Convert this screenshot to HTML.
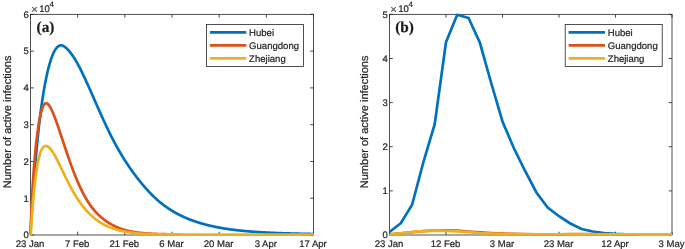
<!DOCTYPE html>
<html lang="en"><head><meta charset="utf-8"><title>Number of active infections</title>
<style>html,body{margin:0;padding:0;background:#fff}svg{display:block}text{white-space:pre;text-rendering:geometricPrecision;stroke:#262626;stroke-width:0.22px}</style></head>
<body>
<svg width="685" height="249" viewBox="0 0 685 249" font-family="'Liberation Sans', Arial, Helvetica, sans-serif" fill="#262626">
<rect width="685" height="249" fill="#fff"/>
<path d="M30.50,235.0v-3.3M30.50,14.35v3.3M77.67,235.0v-3.3M77.67,14.35v3.3M124.83,235.0v-3.3M124.83,14.35v3.3M172.00,235.0v-3.3M172.00,14.35v3.3M219.17,235.0v-3.3M219.17,14.35v3.3M266.33,235.0v-3.3M266.33,14.35v3.3M313.50,235.0v-3.3M313.50,14.35v3.3M30.5,235.00h3.3M313.5,235.00h-3.3M30.5,198.22h3.3M313.5,198.22h-3.3M30.5,161.45h3.3M313.5,161.45h-3.3M30.5,124.67h3.3M313.5,124.67h-3.3M30.5,87.90h3.3M313.5,87.90h-3.3M30.5,51.12h3.3M313.5,51.12h-3.3M30.5,14.35h3.3M313.5,14.35h-3.3" stroke="#262626" stroke-width="0.85" fill="none"/>
<rect x="30.5" y="14.35" width="283.00" height="220.65" fill="none" stroke="#262626" stroke-width="0.8"/>
<text x="30.00" y="247.2" text-anchor="middle" font-size="9.55">23 Jan</text>
<text x="77.17" y="247.2" text-anchor="middle" font-size="9.55">7 Feb</text>
<text x="124.33" y="247.2" text-anchor="middle" font-size="9.55">21 Feb</text>
<text x="171.50" y="247.2" text-anchor="middle" font-size="9.55">6 Mar</text>
<text x="218.67" y="247.2" text-anchor="middle" font-size="9.55">20 Mar</text>
<text x="265.83" y="247.2" text-anchor="middle" font-size="9.55">3 Apr</text>
<text x="313.00" y="247.2" text-anchor="middle" font-size="9.55">17 Apr</text>
<text x="28.75" y="238.30" text-anchor="end" font-size="9.55">0</text>
<text x="28.75" y="201.53" text-anchor="end" font-size="9.55">1</text>
<text x="28.75" y="164.75" text-anchor="end" font-size="9.55">2</text>
<text x="28.75" y="127.97" text-anchor="end" font-size="9.55">3</text>
<text x="28.75" y="91.20" text-anchor="end" font-size="9.55">4</text>
<text x="28.75" y="54.42" text-anchor="end" font-size="9.55">5</text>
<text x="28.75" y="17.65" text-anchor="end" font-size="9.55">6</text>
<text x="31.25" y="12.7" font-size="11.2" fill="#555">×</text>
<text x="39.20" y="11.8" font-size="9.55">10</text>
<text x="49.60" y="7.4" font-size="8.0">4</text>
<text transform="translate(11.00,121.88) rotate(-90)" text-anchor="middle" font-size="11.0">Number of active infections</text>
<clipPath id="ca"><rect x="29.3" y="14.35" width="284.80" height="222.25"/></clipPath>
<g clip-path="url(#ca)" fill="none" stroke-width="2.7" stroke-linejoin="round">
<path d="M30.30,234.45 L30.55,230.47 L30.80,226.52 L31.05,222.60 L31.30,218.72 L31.55,214.89 L31.80,211.10 L32.05,207.36 L32.30,203.68 L32.55,200.05 L32.80,196.48 L33.05,192.96 L33.30,189.50 L33.55,186.10 L33.80,182.76 L34.05,179.48 L34.30,176.26 L34.55,173.09 L34.80,169.99 L35.05,166.94 L35.30,163.94 L35.55,161.01 L35.80,158.13 L36.05,155.30 L36.30,152.53 L36.55,149.81 L36.80,147.15 L37.05,144.54 L37.30,141.98 L37.55,139.47 L37.80,137.01 L38.05,134.59 L38.30,132.23 L38.55,129.91 L38.80,127.64 L39.05,125.42 L39.30,123.24 L39.55,121.10 L39.80,119.01 L40.05,116.96 L40.30,114.95 L40.55,112.98 L40.80,111.05 L41.05,109.16 L41.30,107.31 L41.55,105.50 L41.80,103.73 L42.05,101.99 L42.30,100.29 L42.55,98.62 L42.80,96.99 L43.05,95.39 L43.30,93.83 L43.55,92.30 L43.80,90.80 L44.05,89.33 L44.30,87.90 L44.55,86.50 L44.80,85.12 L45.05,83.78 L45.30,82.46 L45.55,81.17 L45.80,79.91 L46.05,78.68 L46.30,77.48 L46.55,76.30 L46.80,75.15 L47.05,74.02 L47.30,72.92 L47.55,71.85 L47.80,70.80 L48.05,69.77 L48.30,68.77 L48.55,67.79 L48.80,66.83 L49.05,65.90 L49.30,64.99 L49.55,64.10 L49.80,63.24 L50.05,62.40 L50.30,61.58 L50.55,60.78 L50.80,60.01 L51.05,59.26 L51.30,58.53 L51.55,57.82 L51.80,57.13 L52.05,56.47 L52.30,55.83 L52.55,55.20 L52.80,54.60 L53.05,54.02 L53.30,53.46 L53.55,52.92 L53.80,52.40 L54.05,51.90 L54.30,51.43 L54.55,50.97 L54.80,50.53 L55.05,50.11 L55.30,49.70 L55.55,49.32 L55.80,48.96 L56.05,48.61 L56.30,48.29 L56.55,47.98 L56.80,47.69 L57.05,47.42 L57.30,47.16 L57.55,46.93 L57.80,46.71 L58.05,46.51 L58.30,46.32 L58.55,46.15 L58.80,46.00 L59.05,45.87 L59.30,45.75 L59.55,45.65 L59.80,45.57 L60.05,45.50 L60.30,45.44 L60.55,45.41 L60.80,45.38 L61.05,45.38 L61.30,45.39 L61.55,45.41 L61.80,45.45 L62.05,45.50 L62.30,45.57 L62.55,45.64 L62.80,45.74 L63.05,45.84 L63.30,45.95 L63.55,46.08 L63.80,46.22 L64.05,46.36 L64.30,46.52 L64.55,46.69 L64.80,46.87 L65.05,47.05 L65.30,47.24 L65.55,47.45 L65.80,47.66 L66.05,47.87 L66.30,48.10 L66.55,48.33 L66.80,48.57 L67.05,48.81 L67.30,49.06 L67.55,49.32 L67.80,49.58 L68.05,49.85 L68.30,50.12 L68.55,50.39 L68.80,50.68 L69.05,50.96 L69.30,51.25 L69.55,51.55 L69.80,51.85 L70.05,52.16 L70.30,52.47 L70.55,52.79 L70.80,53.11 L71.05,53.44 L71.30,53.77 L71.55,54.11 L71.80,54.45 L72.05,54.80 L72.30,55.15 L72.55,55.51 L72.80,55.87 L73.05,56.23 L73.30,56.61 L73.55,56.98 L73.80,57.36 L74.05,57.75 L74.30,58.14 L74.55,58.54 L74.80,58.94 L75.05,59.34 L75.30,59.75 L75.55,60.17 L75.80,60.59 L76.05,61.01 L76.30,61.44 L76.55,61.88 L76.80,62.32 L77.05,62.76 L77.30,63.21 L77.55,63.66 L77.80,64.12 L78.05,64.58 L78.30,65.04 L78.55,65.51 L78.80,65.98 L79.05,66.46 L79.30,66.94 L79.55,67.42 L79.80,67.91 L80.05,68.40 L80.30,68.89 L80.55,69.39 L80.80,69.89 L81.05,70.39 L81.30,70.89 L81.55,71.40 L81.80,71.91 L82.05,72.42 L82.30,72.94 L82.55,73.46 L82.80,73.98 L83.05,74.50 L83.30,75.02 L83.55,75.55 L83.80,76.08 L84.05,76.61 L84.30,77.14 L84.55,77.68 L84.80,78.21 L85.05,78.75 L85.30,79.29 L85.55,79.83 L85.80,80.38 L86.05,80.92 L86.30,81.47 L86.55,82.02 L86.80,82.57 L87.05,83.12 L87.30,83.67 L87.55,84.22 L87.80,84.77 L88.05,85.33 L88.30,85.88 L88.55,86.44 L88.80,87.00 L89.05,87.56 L89.30,88.12 L89.55,88.68 L89.80,89.24 L90.05,89.80 L90.30,90.36 L90.80,91.49 L91.30,92.62 L91.80,93.75 L92.30,94.88 L92.80,96.02 L93.30,97.15 L93.80,98.29 L94.30,99.43 L94.80,100.56 L95.30,101.70 L95.80,102.84 L96.30,103.97 L96.80,105.11 L97.30,106.24 L97.80,107.37 L98.30,108.50 L98.80,109.63 L99.30,110.76 L99.80,111.88 L100.30,113.00 L100.80,114.11 L101.30,115.22 L101.80,116.33 L102.30,117.43 L102.80,118.53 L103.30,119.62 L103.80,120.71 L104.30,121.80 L104.80,122.87 L105.30,123.95 L105.80,125.01 L106.30,126.07 L106.80,127.13 L107.30,128.17 L107.80,129.22 L108.30,130.25 L108.80,131.28 L109.30,132.30 L109.80,133.31 L110.30,134.32 L110.80,135.32 L111.30,136.31 L111.80,137.30 L112.30,138.27 L112.80,139.24 L113.30,140.20 L113.80,141.16 L114.30,142.11 L114.80,143.04 L115.30,143.98 L115.80,144.90 L116.30,145.82 L116.80,146.72 L117.30,147.62 L117.80,148.52 L118.30,149.40 L118.80,150.28 L119.30,151.15 L119.80,152.01 L120.30,152.87 L120.80,153.72 L121.30,154.56 L121.80,155.39 L122.30,156.21 L122.80,157.03 L123.30,157.84 L123.80,158.64 L124.30,159.44 L124.80,160.23 L125.30,161.01 L125.80,161.78 L126.30,162.55 L126.80,163.31 L127.30,164.07 L127.80,164.82 L128.30,165.56 L128.80,166.30 L129.30,167.03 L129.80,167.76 L130.30,168.48 L130.80,169.19 L131.30,169.90 L131.80,170.60 L132.30,171.30 L132.80,171.99 L133.30,172.68 L133.80,173.36 L134.30,174.04 L134.80,174.71 L135.30,175.37 L135.80,176.03 L136.30,176.69 L136.80,177.34 L137.30,177.99 L137.80,178.63 L138.30,179.27 L138.80,179.90 L139.30,180.53 L139.80,181.15 L140.30,181.77 L140.80,182.39 L141.30,183.00 L141.80,183.61 L142.30,184.21 L142.80,184.80 L143.30,185.40 L143.80,185.99 L144.30,186.57 L144.80,187.15 L145.30,187.72 L145.80,188.29 L146.30,188.85 L146.80,189.41 L147.30,189.97 L147.80,190.52 L148.30,191.06 L148.80,191.60 L149.30,192.13 L149.80,192.66 L150.30,193.18 L150.80,193.70 L151.30,194.21 L151.80,194.71 L152.30,195.22 L152.80,195.71 L153.30,196.20 L153.80,196.68 L154.30,197.16 L154.80,197.63 L155.30,198.10 L155.80,198.56 L156.30,199.02 L156.80,199.47 L157.30,199.91 L157.80,200.35 L158.30,200.78 L158.80,201.21 L159.30,201.63 L159.80,202.05 L160.30,202.46 L160.80,202.86 L161.30,203.26 L161.80,203.66 L162.30,204.05 L162.80,204.44 L163.30,204.82 L163.80,205.20 L164.30,205.57 L164.80,205.94 L165.30,206.30 L165.80,206.66 L166.30,207.01 L166.80,207.36 L167.30,207.70 L167.80,208.04 L168.30,208.38 L168.80,208.71 L169.30,209.04 L169.80,209.36 L170.30,209.68 L170.80,210.00 L171.30,210.31 L171.80,210.62 L172.30,210.92 L172.80,211.22 L173.30,211.52 L173.80,211.81 L174.30,212.10 L174.80,212.39 L175.30,212.67 L175.80,212.95 L176.30,213.23 L176.80,213.50 L177.30,213.77 L177.80,214.03 L178.30,214.29 L178.80,214.55 L179.30,214.81 L179.80,215.06 L180.30,215.31 L180.80,215.55 L181.30,215.80 L181.80,216.04 L182.30,216.27 L182.80,216.51 L183.30,216.74 L183.80,216.97 L184.30,217.19 L184.80,217.41 L185.30,217.63 L185.80,217.85 L186.30,218.07 L186.80,218.28 L187.30,218.49 L187.80,218.69 L188.30,218.90 L188.80,219.10 L189.30,219.30 L189.80,219.49 L190.30,219.69 L190.80,219.88 L191.30,220.07 L191.80,220.25 L192.30,220.44 L192.80,220.62 L193.30,220.80 L193.80,220.98 L194.30,221.15 L194.80,221.33 L195.30,221.50 L195.80,221.67 L196.30,221.83 L196.80,222.00 L197.30,222.16 L197.80,222.32 L198.30,222.48 L198.80,222.64 L199.30,222.79 L199.80,222.94 L200.30,223.09 L200.80,223.24 L201.30,223.39 L201.80,223.53 L202.30,223.68 L202.80,223.82 L203.30,223.96 L203.80,224.10 L204.30,224.23 L204.80,224.37 L205.30,224.50 L205.80,224.63 L206.30,224.76 L206.80,224.89 L207.30,225.02 L207.80,225.14 L208.30,225.26 L208.80,225.38 L209.30,225.50 L209.80,225.62 L210.30,225.74 L210.80,225.86 L211.30,225.97 L211.80,226.08 L212.30,226.19 L212.80,226.30 L213.30,226.41 L213.80,226.52 L214.30,226.62 L214.80,226.73 L215.30,226.83 L215.80,226.93 L216.30,227.03 L216.80,227.13 L217.30,227.23 L217.80,227.32 L218.30,227.42 L218.80,227.51 L219.30,227.61 L219.80,227.70 L220.30,227.79 L220.80,227.88 L221.30,227.96 L221.80,228.05 L222.30,228.14 L222.80,228.22 L223.30,228.30 L223.80,228.39 L224.30,228.47 L224.80,228.55 L225.30,228.63 L225.80,228.71 L226.30,228.78 L226.80,228.86 L227.30,228.93 L227.80,229.01 L228.30,229.08 L228.80,229.15 L229.30,229.23 L229.80,229.30 L230.30,229.37 L230.80,229.43 L231.30,229.50 L231.80,229.57 L232.30,229.63 L232.80,229.70 L233.30,229.76 L233.80,229.83 L234.30,229.89 L234.80,229.95 L235.30,230.01 L235.80,230.07 L236.30,230.13 L236.80,230.19 L237.30,230.25 L237.80,230.30 L238.30,230.36 L238.80,230.42 L239.30,230.47 L239.80,230.52 L240.30,230.58 L240.80,230.63 L241.30,230.68 L241.80,230.73 L242.30,230.78 L242.80,230.83 L243.30,230.88 L243.80,230.93 L244.30,230.98 L244.80,231.02 L245.30,231.07 L245.80,231.12 L246.30,231.16 L246.80,231.21 L247.30,231.25 L247.80,231.29 L248.30,231.34 L248.80,231.38 L249.30,231.42 L249.80,231.46 L250.30,231.50 L250.80,231.54 L251.30,231.58 L251.80,231.62 L252.30,231.66 L252.80,231.70 L253.30,231.73 L253.80,231.77 L254.30,231.81 L254.80,231.84 L255.30,231.88 L255.80,231.91 L256.30,231.95 L256.80,231.98 L257.30,232.02 L257.80,232.05 L258.30,232.08 L258.80,232.11 L259.30,232.15 L259.80,232.18 L260.30,232.21 L260.80,232.24 L261.30,232.27 L261.80,232.30 L262.30,232.33 L262.80,232.36 L263.30,232.38 L263.80,232.41 L264.30,232.44 L264.80,232.47 L265.30,232.49 L265.80,232.52 L266.30,232.55 L266.80,232.57 L267.30,232.60 L267.80,232.62 L268.30,232.65 L268.80,232.67 L269.30,232.70 L269.80,232.72 L270.30,232.75 L270.80,232.77 L271.30,232.79 L271.80,232.81 L272.30,232.84 L272.80,232.86 L273.30,232.88 L273.80,232.90 L274.30,232.92 L274.80,232.94 L275.30,232.97 L275.80,232.99 L276.30,233.01 L276.80,233.03 L277.30,233.05 L277.80,233.07 L278.30,233.08 L278.80,233.10 L279.30,233.12 L279.80,233.14 L280.30,233.16 L280.80,233.18 L281.30,233.19 L281.80,233.21 L282.30,233.23 L282.80,233.25 L283.30,233.26 L283.80,233.28 L284.30,233.30 L284.80,233.31 L285.30,233.33 L285.80,233.35 L286.30,233.36 L286.80,233.38 L287.30,233.39 L287.80,233.41 L288.30,233.42 L288.80,233.44 L289.30,233.45 L289.80,233.47 L290.30,233.48 L290.80,233.50 L291.30,233.51 L291.80,233.52 L292.30,233.54 L292.80,233.55 L293.30,233.57 L293.80,233.58 L294.30,233.59 L294.80,233.61 L295.30,233.62 L295.80,233.63 L296.30,233.65 L296.80,233.66 L297.30,233.67 L297.80,233.68 L298.30,233.70 L298.80,233.71 L299.30,233.72 L299.80,233.73 L300.30,233.74 L300.80,233.76 L301.30,233.77 L301.80,233.78 L302.30,233.79 L302.80,233.80 L303.30,233.81 L303.80,233.83 L304.30,233.84 L304.80,233.85 L305.30,233.86 L305.80,233.87 L306.30,233.88 L306.80,233.89 L307.30,233.90 L307.80,233.91 L308.30,233.93 L308.80,233.94 L309.30,233.95 L309.80,233.96 L310.30,233.97 L310.80,233.98 L311.30,233.99 L311.80,234.00 L312.30,234.01 L312.80,234.02 L313.30,234.03 L313.80,234.04 L314.30,234.05" stroke="#0072BD"/>
<path d="M30.30,233.98 L30.55,227.83 L30.80,221.99 L31.05,216.42 L31.30,211.12 L31.55,206.07 L31.80,201.25 L32.05,196.64 L32.30,192.24 L32.55,188.04 L32.80,184.01 L33.05,180.16 L33.30,176.47 L33.55,172.93 L33.80,169.54 L34.05,166.28 L34.30,163.16 L34.55,160.16 L34.80,157.28 L35.05,154.51 L35.30,151.85 L35.55,149.29 L35.80,146.83 L36.05,144.47 L36.30,142.19 L36.55,140.00 L36.80,137.89 L37.05,135.86 L37.30,133.90 L37.55,132.02 L37.80,130.21 L38.05,128.46 L38.30,126.78 L38.55,125.17 L38.80,123.63 L39.05,122.14 L39.30,120.73 L39.55,119.37 L39.80,118.08 L40.05,116.85 L40.30,115.68 L40.55,114.56 L40.80,113.51 L41.05,112.51 L41.30,111.57 L41.55,110.69 L41.80,109.86 L42.05,109.08 L42.30,108.36 L42.55,107.69 L42.80,107.07 L43.05,106.50 L43.30,105.98 L43.55,105.50 L43.80,105.08 L44.05,104.70 L44.30,104.37 L44.55,104.08 L44.80,103.84 L45.05,103.64 L45.30,103.49 L45.55,103.37 L45.80,103.30 L46.05,103.27 L46.30,103.27 L46.55,103.31 L46.80,103.39 L47.05,103.50 L47.30,103.64 L47.55,103.81 L47.80,104.01 L48.05,104.24 L48.30,104.49 L48.55,104.77 L48.80,105.07 L49.05,105.40 L49.30,105.75 L49.55,106.12 L49.80,106.51 L50.05,106.93 L50.30,107.36 L50.55,107.80 L50.80,108.27 L51.05,108.75 L51.30,109.25 L51.55,109.76 L51.80,110.28 L52.05,110.82 L52.30,111.38 L52.55,111.94 L52.80,112.52 L53.05,113.11 L53.30,113.70 L53.55,114.31 L53.80,114.93 L54.05,115.56 L54.30,116.20 L54.55,116.84 L54.80,117.49 L55.05,118.16 L55.30,118.82 L55.55,119.50 L55.80,120.18 L56.05,120.87 L56.30,121.56 L56.55,122.26 L56.80,122.96 L57.05,123.67 L57.30,124.38 L57.55,125.10 L57.80,125.82 L58.05,126.55 L58.30,127.27 L58.55,128.01 L58.80,128.74 L59.05,129.48 L59.30,130.22 L59.55,130.96 L59.80,131.70 L60.05,132.45 L60.30,133.20 L60.55,133.95 L60.80,134.70 L61.05,135.45 L61.30,136.20 L61.55,136.96 L61.80,137.71 L62.05,138.47 L62.30,139.22 L62.55,139.98 L62.80,140.74 L63.05,141.49 L63.30,142.25 L63.55,143.01 L63.80,143.76 L64.05,144.52 L64.30,145.27 L64.55,146.02 L64.80,146.78 L65.05,147.53 L65.30,148.28 L65.55,149.02 L65.80,149.77 L66.05,150.52 L66.30,151.26 L66.55,152.00 L66.80,152.74 L67.05,153.47 L67.30,154.21 L67.55,154.94 L67.80,155.67 L68.05,156.39 L68.30,157.12 L68.55,157.84 L68.80,158.56 L69.05,159.27 L69.30,159.98 L69.55,160.69 L69.80,161.40 L70.05,162.10 L70.30,162.80 L70.55,163.49 L70.80,164.18 L71.05,164.87 L71.30,165.56 L71.55,166.24 L71.80,166.92 L72.05,167.59 L72.30,168.26 L72.55,168.93 L72.80,169.59 L73.05,170.25 L73.30,170.91 L73.55,171.56 L73.80,172.20 L74.05,172.85 L74.30,173.49 L74.55,174.12 L74.80,174.75 L75.05,175.38 L75.30,176.00 L75.55,176.62 L75.80,177.23 L76.05,177.84 L76.30,178.45 L76.55,179.05 L76.80,179.64 L77.05,180.24 L77.30,180.82 L77.55,181.41 L77.80,181.99 L78.05,182.56 L78.30,183.13 L78.55,183.70 L78.80,184.26 L79.05,184.82 L79.30,185.37 L79.55,185.92 L79.80,186.46 L80.05,187.00 L80.30,187.54 L80.55,188.07 L80.80,188.59 L81.05,189.11 L81.30,189.63 L81.55,190.14 L81.80,190.65 L82.05,191.15 L82.30,191.65 L82.55,192.15 L82.80,192.64 L83.05,193.12 L83.30,193.60 L83.55,194.08 L83.80,194.55 L84.05,195.02 L84.30,195.48 L84.55,195.94 L84.80,196.39 L85.05,196.84 L85.30,197.29 L85.55,197.73 L85.80,198.16 L86.05,198.59 L86.30,199.02 L86.55,199.44 L86.80,199.86 L87.05,200.27 L87.30,200.68 L87.55,201.09 L87.80,201.48 L88.05,201.88 L88.30,202.27 L88.55,202.66 L88.80,203.04 L89.05,203.42 L89.30,203.79 L89.55,204.16 L89.80,204.52 L90.05,204.89 L90.30,205.24 L90.80,205.94 L91.30,206.62 L91.80,207.29 L92.30,207.93 L92.80,208.57 L93.30,209.18 L93.80,209.79 L94.30,210.38 L94.80,210.95 L95.30,211.51 L95.80,212.06 L96.30,212.60 L96.80,213.12 L97.30,213.63 L97.80,214.14 L98.30,214.63 L98.80,215.11 L99.30,215.58 L99.80,216.04 L100.30,216.49 L100.80,216.93 L101.30,217.37 L101.80,217.79 L102.30,218.21 L102.80,218.62 L103.30,219.02 L103.80,219.41 L104.30,219.80 L104.80,220.17 L105.30,220.54 L105.80,220.90 L106.30,221.26 L106.80,221.60 L107.30,221.94 L107.80,222.27 L108.30,222.60 L108.80,222.92 L109.30,223.23 L109.80,223.53 L110.30,223.83 L110.80,224.12 L111.30,224.40 L111.80,224.68 L112.30,224.95 L112.80,225.22 L113.30,225.48 L113.80,225.73 L114.30,225.98 L114.80,226.22 L115.30,226.46 L115.80,226.69 L116.30,226.92 L116.80,227.14 L117.30,227.35 L117.80,227.56 L118.30,227.76 L118.80,227.96 L119.30,228.15 L119.80,228.34 L120.30,228.53 L120.80,228.70 L121.30,228.88 L121.80,229.05 L122.30,229.21 L122.80,229.37 L123.30,229.53 L123.80,229.68 L124.30,229.83 L124.80,229.97 L125.30,230.11 L125.80,230.24 L126.30,230.38 L126.80,230.50 L127.30,230.63 L127.80,230.75 L128.30,230.87 L128.80,230.98 L129.30,231.09 L129.80,231.20 L130.30,231.30 L130.80,231.41 L131.30,231.51 L131.80,231.60 L132.30,231.69 L132.80,231.78 L133.30,231.87 L133.80,231.96 L134.30,232.04 L134.80,232.12 L135.30,232.20 L135.80,232.27 L136.30,232.35 L136.80,232.42 L137.30,232.49 L137.80,232.55 L138.30,232.62 L138.80,232.68 L139.30,232.74 L139.80,232.80 L140.30,232.85 L140.80,232.91 L141.30,232.96 L141.80,233.01 L142.30,233.06 L142.80,233.11 L143.30,233.16 L143.80,233.20 L144.30,233.25 L144.80,233.29 L145.30,233.33 L145.80,233.37 L146.30,233.40 L146.80,233.44 L147.30,233.48 L147.80,233.51 L148.30,233.54 L148.80,233.57 L149.30,233.61 L149.80,233.64 L150.30,233.66 L150.80,233.69 L151.30,233.72 L151.80,233.75 L152.30,233.77 L152.80,233.79 L153.30,233.82 L153.80,233.84 L154.30,233.86 L154.80,233.88 L155.30,233.90 L155.80,233.92 L156.30,233.94 L156.80,233.96 L157.30,233.98 L157.80,234.00 L158.30,234.01 L158.80,234.03 L159.30,234.05 L159.80,234.06 L160.30,234.08 L160.80,234.09 L161.30,234.10 L161.80,234.12 L162.30,234.13 L162.80,234.14 L163.30,234.15 L163.80,234.17 L164.30,234.18 L164.80,234.19 L165.30,234.20 L165.80,234.21 L166.30,234.22 L166.80,234.23 L167.30,234.24 L167.80,234.24 L168.30,234.25 L168.80,234.26 L169.30,234.27 L169.80,234.28 L170.30,234.28 L170.80,234.29 L171.30,234.30" stroke="#D95319"/>
<path d="M30.30,234.50 L30.55,234.50 L30.80,234.34 L31.05,230.14 L31.30,226.11 L31.55,222.23 L31.80,218.51 L32.05,214.93 L32.30,211.49 L32.55,208.19 L32.80,205.02 L33.05,201.97 L33.30,199.05 L33.55,196.24 L33.80,193.55 L34.05,190.96 L34.30,188.48 L34.55,186.10 L34.80,183.82 L35.05,181.64 L35.30,179.54 L35.55,177.54 L35.80,175.62 L36.05,173.78 L36.30,172.02 L36.55,170.34 L36.80,168.74 L37.05,167.20 L37.30,165.74 L37.55,164.35 L37.80,163.02 L38.05,161.76 L38.30,160.56 L38.55,159.42 L38.80,158.34 L39.05,157.31 L39.30,156.34 L39.55,155.42 L39.80,154.56 L40.05,153.75 L40.30,152.98 L40.55,152.27 L40.80,151.60 L41.05,150.97 L41.30,150.39 L41.55,149.86 L41.80,149.36 L42.05,148.91 L42.30,148.49 L42.55,148.11 L42.80,147.77 L43.05,147.46 L43.30,147.18 L43.55,146.93 L43.80,146.72 L44.05,146.53 L44.30,146.38 L44.55,146.25 L44.80,146.14 L45.05,146.06 L45.30,146.01 L45.55,145.98 L45.80,145.97 L46.05,145.98 L46.30,146.01 L46.55,146.07 L46.80,146.14 L47.05,146.23 L47.30,146.34 L47.55,146.47 L47.80,146.61 L48.05,146.77 L48.30,146.94 L48.55,147.13 L48.80,147.34 L49.05,147.56 L49.30,147.79 L49.55,148.03 L49.80,148.29 L50.05,148.56 L50.30,148.84 L50.55,149.13 L50.80,149.44 L51.05,149.75 L51.30,150.08 L51.55,150.41 L51.80,150.76 L52.05,151.11 L52.30,151.47 L52.55,151.84 L52.80,152.22 L53.05,152.61 L53.30,153.00 L53.55,153.41 L53.80,153.82 L54.05,154.23 L54.30,154.66 L54.55,155.09 L54.80,155.52 L55.05,155.97 L55.30,156.42 L55.55,156.87 L55.80,157.33 L56.05,157.79 L56.30,158.27 L56.55,158.74 L56.80,159.22 L57.05,159.71 L57.30,160.19 L57.55,160.69 L57.80,161.18 L58.05,161.68 L58.30,162.19 L58.55,162.69 L58.80,163.20 L59.05,163.71 L59.30,164.22 L59.55,164.74 L59.80,165.25 L60.05,165.77 L60.30,166.29 L60.55,166.81 L60.80,167.33 L61.05,167.85 L61.30,168.37 L61.55,168.90 L61.80,169.42 L62.05,169.94 L62.30,170.47 L62.55,170.99 L62.80,171.51 L63.05,172.03 L63.30,172.56 L63.55,173.08 L63.80,173.60 L64.05,174.12 L64.30,174.63 L64.55,175.15 L64.80,175.67 L65.05,176.18 L65.30,176.69 L65.55,177.21 L65.80,177.72 L66.05,178.22 L66.30,178.73 L66.55,179.24 L66.80,179.74 L67.05,180.24 L67.30,180.74 L67.55,181.24 L67.80,181.73 L68.05,182.22 L68.30,182.71 L68.55,183.20 L68.80,183.69 L69.05,184.17 L69.30,184.65 L69.55,185.13 L69.80,185.60 L70.05,186.08 L70.30,186.55 L70.55,187.01 L70.80,187.48 L71.05,187.94 L71.30,188.40 L71.55,188.86 L71.80,189.31 L72.05,189.76 L72.30,190.21 L72.55,190.65 L72.80,191.09 L73.05,191.53 L73.30,191.97 L73.55,192.40 L73.80,192.83 L74.05,193.25 L74.30,193.68 L74.55,194.10 L74.80,194.51 L75.05,194.93 L75.30,195.34 L75.55,195.74 L75.80,196.15 L76.05,196.55 L76.30,196.95 L76.55,197.34 L76.80,197.73 L77.05,198.12 L77.30,198.50 L77.55,198.89 L77.80,199.26 L78.05,199.64 L78.30,200.01 L78.55,200.38 L78.80,200.75 L79.05,201.11 L79.30,201.47 L79.55,201.83 L79.80,202.18 L80.05,202.53 L80.30,202.88 L80.55,203.23 L80.80,203.57 L81.05,203.91 L81.30,204.25 L81.55,204.58 L81.80,204.91 L82.05,205.24 L82.30,205.57 L82.55,205.89 L82.80,206.21 L83.05,206.53 L83.30,206.84 L83.55,207.15 L83.80,207.46 L84.05,207.77 L84.30,208.07 L84.55,208.37 L84.80,208.67 L85.05,208.97 L85.30,209.26 L85.55,209.55 L85.80,209.84 L86.05,210.12 L86.30,210.40 L86.55,210.68 L86.80,210.96 L87.05,211.24 L87.30,211.51 L87.55,211.78 L87.80,212.05 L88.05,212.31 L88.30,212.57 L88.55,212.83 L88.80,213.09 L89.05,213.35 L89.30,213.60 L89.55,213.85 L89.80,214.10 L90.05,214.34 L90.30,214.59 L90.80,215.06 L91.30,215.53 L91.80,216.00 L92.30,216.45 L92.80,216.89 L93.30,217.32 L93.80,217.75 L94.30,218.16 L94.80,218.57 L95.30,218.97 L95.80,219.36 L96.30,219.74 L96.80,220.12 L97.30,220.48 L97.80,220.84 L98.30,221.19 L98.80,221.53 L99.30,221.87 L99.80,222.19 L100.30,222.51 L100.80,222.82 L101.30,223.13 L101.80,223.42 L102.30,223.71 L102.80,224.00 L103.30,224.27 L103.80,224.54 L104.30,224.80 L104.80,225.06 L105.30,225.31 L105.80,225.56 L106.30,225.79 L106.80,226.03 L107.30,226.25 L107.80,226.48 L108.30,226.69 L108.80,226.90 L109.30,227.11 L109.80,227.31 L110.30,227.51 L110.80,227.70 L111.30,227.89 L111.80,228.07 L112.30,228.25 L112.80,228.43 L113.30,228.60 L113.80,228.76 L114.30,228.92 L114.80,229.08 L115.30,229.24 L115.80,229.39 L116.30,229.53 L116.80,229.68 L117.30,229.82 L117.80,229.96 L118.30,230.09 L118.80,230.22 L119.30,230.35 L119.80,230.47 L120.30,230.59 L120.80,230.71 L121.30,230.83 L121.80,230.94 L122.30,231.05 L122.80,231.16 L123.30,231.26 L123.80,231.36 L124.30,231.46 L124.80,231.56 L125.30,231.65 L125.80,231.75 L126.30,231.84 L126.80,231.92 L127.30,232.01 L127.80,232.09 L128.30,232.18 L128.80,232.26 L129.30,232.33 L129.80,232.41 L130.30,232.48 L130.80,232.56 L131.30,232.63 L131.80,232.70 L132.30,232.76 L132.80,232.83 L133.30,232.89 L133.80,232.95 L134.30,233.01 L134.80,233.07 L135.30,233.13 L135.80,233.19 L136.30,233.24 L136.80,233.29 L137.30,233.34 L137.80,233.39 L138.30,233.44 L138.80,233.48 L139.30,233.52 L139.80,233.56 L140.30,233.60 L140.80,233.64 L141.30,233.68 L141.80,233.71 L142.30,233.74 L142.80,233.77 L143.30,233.80 L143.80,233.83 L144.30,233.86 L144.80,233.89 L145.30,233.91 L145.80,233.94 L146.30,233.96 L146.80,233.98 L147.30,234.00 L147.80,234.02 L148.30,234.04 L148.80,234.06 L149.30,234.08 L149.80,234.10 L150.30,234.12 L150.80,234.13 L151.30,234.15 L151.80,234.16 L152.30,234.18 L152.80,234.19 L153.30,234.20 L153.80,234.21 L154.30,234.23 L154.80,234.24 L155.30,234.25 L155.80,234.26 L156.30,234.27 L156.80,234.28 L157.30,234.29 L157.80,234.30 L158.30,234.30 L158.80,234.31 L159.30,234.32 L159.80,234.33 L160.30,234.33 L160.80,234.34 L161.30,234.35 L161.80,234.35 L162.30,234.36 L162.80,234.37 L163.30,234.37 L163.80,234.38 L164.30,234.38 L164.80,234.39 L165.30,234.39 L165.80,234.40 L166.30,234.40 L166.80,234.40 L167.30,234.41 L167.80,234.41 L168.30,234.42 L168.80,234.42 L169.30,234.42 L169.80,234.43 L170.30,234.43 L170.80,234.43 L171.30,234.43 L171.80,234.44 L172.30,234.44 L172.80,234.44 L173.30,234.45 L173.80,234.45 L174.30,234.45 L174.80,234.45 L175.30,234.45 L175.80,234.46 L176.30,234.46 L176.80,234.46 L177.30,234.46 L177.80,234.46 L178.30,234.46 L178.80,234.47 L179.30,234.47 L179.80,234.47 L180.30,234.47 L180.80,234.47 L181.30,234.47 L181.80,234.47 L182.30,234.47 L182.80,234.48 L183.30,234.48 L183.80,234.48 L184.30,234.48 L184.80,234.48 L185.30,234.48 L185.80,234.48 L186.30,234.48 L186.80,234.48 L187.30,234.48 L187.80,234.48 L188.30,234.48 L188.80,234.49 L189.30,234.49 L189.80,234.49 L190.30,234.49 L190.80,234.49 L191.30,234.49 L191.80,234.49 L192.30,234.49 L192.80,234.49 L193.30,234.49 L193.80,234.49 L194.30,234.49 L194.80,234.49 L195.30,234.49 L195.80,234.49 L196.30,234.49 L196.80,234.49 L197.30,234.49 L197.80,234.49 L198.30,234.49 L198.80,234.49 L199.30,234.49 L199.80,234.49 L200.30,234.49 L200.80,234.49 L201.30,234.49 L201.80,234.50 L202.30,234.50 L202.80,234.50 L203.30,234.50 L203.80,234.50 L204.30,234.50 L204.80,234.50 L205.30,234.50 L205.80,234.50 L206.30,234.50 L206.80,234.50 L207.30,234.50 L207.80,234.50 L208.30,234.50 L208.80,234.50 L209.30,234.50 L209.80,234.50 L210.30,234.50 L210.80,234.50 L211.30,234.50 L211.80,234.50 L212.30,234.50 L212.80,234.50 L213.30,234.50 L213.80,234.50 L214.30,234.50 L214.80,234.50 L215.30,234.50 L215.80,234.50 L216.30,234.50 L216.80,234.50 L217.30,234.50 L217.80,234.50 L218.30,234.50 L218.80,234.50 L219.30,234.50 L219.80,234.50 L220.30,234.50 L220.80,234.50 L221.30,234.50 L221.80,234.50 L222.30,234.50 L222.80,234.50 L223.30,234.50 L223.80,234.50 L224.30,234.50 L224.80,234.50 L225.30,234.50 L225.80,234.50 L226.30,234.50 L226.80,234.50 L227.30,234.50 L227.80,234.50 L228.30,234.50 L228.80,234.50 L229.30,234.50 L229.80,234.50 L230.30,234.50 L230.80,234.50 L231.30,234.50 L231.80,234.50 L232.30,234.50 L232.80,234.50 L233.30,234.50 L233.80,234.50 L234.30,234.50 L234.80,234.50 L235.30,234.50 L235.80,234.50 L236.30,234.50 L236.80,234.50 L237.30,234.50 L237.80,234.50 L238.30,234.50 L238.80,234.50 L239.30,234.50 L239.80,234.50 L240.30,234.50 L240.80,234.50 L241.30,234.50 L241.80,234.50 L242.30,234.50 L242.80,234.50 L243.30,234.50 L243.80,234.50 L244.30,234.50 L244.80,234.50 L245.30,234.50 L245.80,234.50 L246.30,234.50 L246.80,234.50 L247.30,234.50 L247.80,234.50 L248.30,234.50 L248.80,234.50 L249.30,234.50 L249.80,234.50 L250.30,234.50 L250.80,234.50 L251.30,234.50 L251.80,234.50 L252.30,234.50 L252.80,234.50 L253.30,234.50 L253.80,234.50 L254.30,234.50 L254.80,234.50 L255.30,234.50 L255.80,234.50 L256.30,234.50 L256.80,234.50 L257.30,234.50 L257.80,234.50 L258.30,234.50 L258.80,234.50 L259.30,234.50 L259.80,234.50 L260.30,234.50 L260.80,234.50 L261.30,234.50 L261.80,234.50 L262.30,234.50 L262.80,234.50 L263.30,234.50 L263.80,234.50 L264.30,234.50 L264.80,234.50 L265.30,234.50 L265.80,234.50 L266.30,234.50 L266.80,234.50 L267.30,234.50 L267.80,234.50 L268.30,234.50 L268.80,234.50 L269.30,234.50 L269.80,234.50 L270.30,234.50 L270.80,234.50 L271.30,234.50 L271.80,234.50 L272.30,234.50 L272.80,234.50 L273.30,234.50 L273.80,234.50 L274.30,234.50 L274.80,234.50 L275.30,234.50 L275.80,234.50 L276.30,234.50 L276.80,234.50 L277.30,234.50 L277.80,234.50 L278.30,234.50 L278.80,234.50 L279.30,234.50 L279.80,234.50 L280.30,234.50 L280.80,234.50 L281.30,234.50 L281.80,234.50 L282.30,234.50 L282.80,234.50 L283.30,234.50 L283.80,234.50 L284.30,234.50 L284.80,234.50 L285.30,234.50 L285.80,234.50 L286.30,234.50 L286.80,234.50 L287.30,234.50 L287.80,234.50 L288.30,234.50 L288.80,234.50 L289.30,234.50 L289.80,234.50 L290.30,234.50 L290.80,234.50 L291.30,234.50 L291.80,234.50 L292.30,234.50 L292.80,234.50 L293.30,234.50 L293.80,234.50 L294.30,234.50 L294.80,234.50 L295.30,234.50 L295.80,234.50 L296.30,234.50 L296.80,234.50 L297.30,234.50 L297.80,234.50 L298.30,234.50 L298.80,234.50 L299.30,234.50 L299.80,234.50 L300.30,234.50 L300.80,234.50 L301.30,234.50 L301.80,234.50 L302.30,234.50 L302.80,234.50 L303.30,234.50 L303.80,234.50 L304.30,234.50 L304.80,234.50 L305.30,234.50 L305.80,234.50 L306.30,234.50 L306.80,234.50 L307.30,234.50 L307.80,234.50 L308.30,234.50 L308.80,234.50 L309.30,234.50 L309.80,234.50 L310.30,234.50 L310.80,234.50 L311.30,234.50 L311.80,234.50 L312.30,234.50 L312.80,234.50 L313.30,234.50 L313.80,234.50 L314.30,234.50" stroke="#EDB120"/>
</g>
<rect x="206.5" y="24.5" width="97" height="42" fill="#fff" stroke="#262626" stroke-width="0.8"/>
<path d="M209.90,32.35h36.4" stroke="#0072BD" stroke-width="2.7" fill="none"/>
<text x="249.10" y="35.75" font-size="9.55">Hubei</text>
<path d="M209.90,45.40h36.4" stroke="#D95319" stroke-width="2.7" fill="none"/>
<text x="249.10" y="48.80" font-size="9.55">Guangdong</text>
<path d="M209.90,58.45h36.4" stroke="#EDB120" stroke-width="2.7" fill="none"/>
<text x="249.10" y="61.85" font-size="9.55">Zhejiang</text>
<text x="36.6" y="31.6" font-family="'Liberation Serif', 'Times New Roman', serif" font-weight="bold" font-size="15.3" fill="#1a1a1a">(a)</text>
<path d="M389.50,235.0v-3.3M389.50,14.35v3.3M446.00,235.0v-3.3M446.00,14.35v3.3M502.50,235.0v-3.3M502.50,14.35v3.3M559.00,235.0v-3.3M559.00,14.35v3.3M615.50,235.0v-3.3M615.50,14.35v3.3M672.00,235.0v-3.3M672.00,14.35v3.3M389.5,235.00h3.3M672.0,235.00h-3.3M389.5,190.87h3.3M672.0,190.87h-3.3M389.5,146.74h3.3M672.0,146.74h-3.3M389.5,102.61h3.3M672.0,102.61h-3.3M389.5,58.48h3.3M672.0,58.48h-3.3M389.5,14.35h3.3M672.0,14.35h-3.3" stroke="#262626" stroke-width="0.85" fill="none"/>
<rect x="389.5" y="14.35" width="282.50" height="220.65" fill="none" stroke="#262626" stroke-width="0.8"/>
<text x="389.00" y="247.2" text-anchor="middle" font-size="9.55">23 Jan</text>
<text x="445.50" y="247.2" text-anchor="middle" font-size="9.55">12 Feb</text>
<text x="502.00" y="247.2" text-anchor="middle" font-size="9.55">3 Mar</text>
<text x="558.50" y="247.2" text-anchor="middle" font-size="9.55">23 Mar</text>
<text x="615.00" y="247.2" text-anchor="middle" font-size="9.55">12 Apr</text>
<text x="671.50" y="247.2" text-anchor="middle" font-size="9.55">3 May</text>
<text x="387.75" y="238.30" text-anchor="end" font-size="9.55">0</text>
<text x="387.75" y="194.17" text-anchor="end" font-size="9.55">1</text>
<text x="387.75" y="150.04" text-anchor="end" font-size="9.55">2</text>
<text x="387.75" y="105.91" text-anchor="end" font-size="9.55">3</text>
<text x="387.75" y="61.78" text-anchor="end" font-size="9.55">4</text>
<text x="387.75" y="17.65" text-anchor="end" font-size="9.55">5</text>
<text x="390.25" y="12.7" font-size="11.2" fill="#555">×</text>
<text x="398.20" y="11.8" font-size="9.55">10</text>
<text x="408.60" y="7.4" font-size="8.0">4</text>
<text transform="translate(368.30,121.88) rotate(-90)" text-anchor="middle" font-size="11.0">Number of active infections</text>
<clipPath id="cb"><rect x="388.3" y="13.549999999999999" width="284.30" height="223.05"/></clipPath>
<g clip-path="url(#cb)" fill="none" stroke-width="2.7" stroke-linejoin="miter">
<path d="M389.50,232.00 L400.80,223.20 L412.10,204.80 L423.40,162.00 L434.70,124.10 L446.00,42.20 L457.30,14.60 L468.60,18.00 L479.90,42.80 L491.20,83.00 L502.50,121.50 L513.80,148.00 L525.10,171.00 L536.40,192.50 L547.70,207.50 L559.00,216.20 L570.30,223.50 L581.60,229.00 L592.90,231.50 L604.20,233.00 L615.50,233.80 L626.80,234.30 L638.10,234.45" stroke="#0072BD"/>
<path d="M389.50,234.40 L400.80,233.25 L412.10,232.05 L423.40,231.10 L434.70,230.50 L446.00,230.30 L457.30,230.70 L468.60,231.50 L479.90,232.30 L491.20,233.00 L502.50,233.50 L513.80,233.95 L525.10,234.20 L536.40,234.30 L547.70,234.30 L559.00,234.30 L570.30,234.20 L581.60,234.10 L592.90,234.10 L604.20,234.20 L615.50,234.30 L626.80,234.30" stroke="#D95319"/>
<path d="M389.50,234.55 L400.80,233.40 L412.10,232.20 L423.40,231.10 L434.70,230.60 L446.00,230.80 L457.30,231.40 L468.60,232.20 L479.90,233.00 L491.20,233.50 L502.50,233.80 L513.80,234.10 L525.10,234.30 L536.40,234.40 L547.70,234.40 L559.00,234.40 L570.30,234.40 L581.60,234.40 L592.90,234.40 L604.20,234.40 L615.50,234.40 L626.80,234.40 L638.10,234.40 L649.40,234.40 L660.70,234.40 L672.00,234.40" stroke="#EDB120"/>
</g>
<rect x="565.2" y="24.5" width="97" height="42" fill="#fff" stroke="#262626" stroke-width="0.8"/>
<path d="M568.60,32.35h36.4" stroke="#0072BD" stroke-width="2.7" fill="none"/>
<text x="607.80" y="35.75" font-size="9.55">Hubei</text>
<path d="M568.60,45.40h36.4" stroke="#D95319" stroke-width="2.7" fill="none"/>
<text x="607.80" y="48.80" font-size="9.55">Guangdong</text>
<path d="M568.60,58.45h36.4" stroke="#EDB120" stroke-width="2.7" fill="none"/>
<text x="607.80" y="61.85" font-size="9.55">Zhejiang</text>
<text x="395.2" y="31.6" font-family="'Liberation Serif', 'Times New Roman', serif" font-weight="bold" font-size="15.3" fill="#1a1a1a">(b)</text>
</svg>
</body></html>
